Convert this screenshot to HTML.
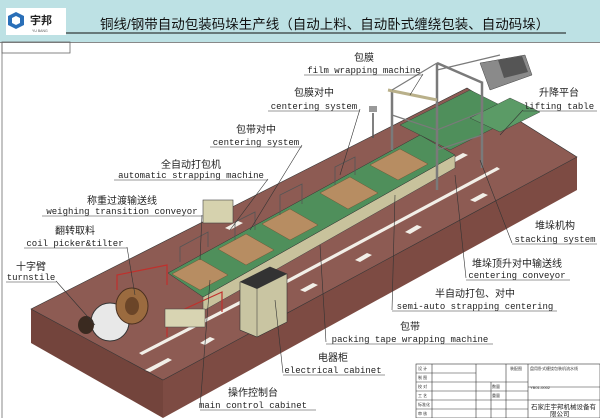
<!DOCTYPE html>
<html><head><meta charset="utf-8"><style>
html,body{margin:0;padding:0;background:#fff;}
body{width:600px;height:418px;overflow:hidden;position:relative;font-family:"Liberation Sans","Noto Sans CJK SC",sans-serif;}
svg{position:absolute;left:0;top:0;}
.en{font-family:"Liberation Mono","DejaVu Sans Mono",monospace;font-size:9px;fill:#222;}
.cn{font-family:"Liberation Sans","Noto Sans CJK SC",sans-serif;font-size:10px;fill:#222;}
</style></head><body>
<svg width="600" height="418" viewBox="0 0 600 418">
<!-- header -->
<rect x="0" y="0" width="600" height="42" fill="#bde1e4"/>
<rect x="6" y="8" width="60" height="27" fill="#fff"/>
<path d="M16 12 l8 4 v9 l-8 4 l-8 -4 v-9z" fill="#2a6fb8"/>
<path d="M16 16 l4 2 v5 l-4 2 l-4 -2 v-5z" fill="#fff"/>
<text x="30" y="24" font-size="11" font-weight="bold" fill="#222" font-family="Liberation Sans,Noto Sans CJK SC,sans-serif">宇邦</text>
<text x="32" y="32" font-size="3.5" fill="#555">YU BANG</text>
<text x="100" y="29" font-size="13.5" fill="#111" font-family="Liberation Sans,Noto Sans CJK SC,sans-serif">铜线/钢带自动包装码垛生产线（自动上料、自动卧式缠绕包装、自动码垛）</text>
<line x1="66" y1="33" x2="566" y2="33" stroke="#111" stroke-width="1"/>
<line x1="0" y1="42.5" x2="600" y2="42.5" stroke="#888" stroke-width="1"/>
<line x1="2" y1="42" x2="2" y2="418" stroke="#888" stroke-width="1"/>
<rect x="2" y="42" width="68" height="11" fill="none" stroke="#666" stroke-width="0.8"/>

<!-- floor -->
<polygon points="31,309 163,380 163,418 31,343" fill="#73443c"/>
<polygon points="163,380 577,157 577,190 163,418" fill="#7d4b43"/>
<polygon points="31,309 467,88 577,157 163,380" fill="#8d5b53" stroke="#333" stroke-width="0.6"/>
<!-- white stripes -->
<g fill="#f2efe8">
<polygon points="139,353 142,355 260,294 257,292"/>
<polygon points="262,293 265,295 500,169 497,167"/>
<polygon points="145,370 150,372 172,360 168,358"/>
<polygon points="200,343 205,345 215,339 210,337"/>
<polygon points="255,313 260,315 272,308 267,306"/>
<polygon points="300,290 305,292 318,285 313,283"/>
<polygon points="355,260 360,262 372,255 367,253"/>
<polygon points="405,232 410,234 422,227 417,225"/>
<polygon points="470,200 475,202 488,195 483,193"/>
<polygon points="225,228 230,230 243,223 238,221"/>
<polygon points="450,160 455,162 468,155 463,153"/>
</g>

<!-- conveyor -->
<polygon points="203,297 455,155 455,168 203,311" fill="#c8c29c" stroke="#444" stroke-width="0.5"/>
<polygon points="168,273 420,135 455,155 203,297" fill="#4f8f5b" stroke="#333" stroke-width="0.5"/>
<g fill="#b78d62" stroke="#6b4b30" stroke-width="0.4">
<polygon points="172,274 200,259 228,275 200,290"/>
<polygon points="218,249 246,234 274,250 246,265"/>
<polygon points="262,224 290,209 318,225 290,240"/>
<polygon points="320,193 350,177 378,193 348,209"/>
<polygon points="370,165 400,149 428,164 398,180"/>
</g>
<g stroke="#555" stroke-width="0.8" fill="none">
<path d="M180 262 v-15 l28 -15 v15"/>
<path d="M235 240 v-18 l20 -10 v18"/>
<path d="M280 215 v-20 l22 -11 v20"/>
<path d="M335 185 v-18 l20 -10 v18"/>
</g>
<rect x="203" y="200" width="30" height="23" fill="#d6d2ae" stroke="#444" stroke-width="0.6"/>
<!-- lifting table -->
<polygon points="400,125 470,90 520,115 450,150" fill="#4f8f5b" stroke="#333" stroke-width="0.4"/>
<polygon points="470,118 510,98 540,112 500,132" fill="#5b9b66" stroke="#333" stroke-width="0.4"/>

<!-- gantry -->
<g stroke="#7a7a7a" stroke-width="2.5" fill="none">
<line x1="392" y1="90" x2="392" y2="150"/>
<line x1="437" y1="63" x2="437" y2="190"/>
<line x1="482" y1="83" x2="482" y2="168"/>
<line x1="437" y1="63" x2="483" y2="83"/>
</g>
<line x1="388" y1="90" x2="437" y2="100" stroke="#b9b08a" stroke-width="3"/>
<g stroke="#7a7a7a" stroke-width="1.2" fill="none">
<line x1="392" y1="115" x2="437" y2="130"/>
<line x1="437" y1="130" x2="482" y2="112"/>
<line x1="437" y1="150" x2="482" y2="135"/>
<line x1="392" y1="90" x2="437" y2="63"/>
<line x1="437" y1="70" x2="500" y2="55"/>
</g>
<polygon points="480,63 525,55 532,75 490,90" fill="#8a8a8a" stroke="#444" stroke-width="0.5"/>
<polygon points="498,60 522,56 528,72 504,78" fill="#555"/>

<!-- cabinets -->
<polygon points="240,282 270,267 287,274 287,322 257,337 240,330" fill="#c9c5a2" stroke="#333" stroke-width="0.6"/>
<line x1="257" y1="289" x2="257" y2="337" stroke="#333" stroke-width="0.5"/>
<polygon points="240,282 270,267 287,274 257,289" fill="#333"/>
<line x1="373" y1="113" x2="373" y2="138" stroke="#555" stroke-width="1.5"/>
<rect x="369" y="106" width="8" height="6" fill="#999"/>

<!-- coil & turnstile -->
<circle cx="110" cy="322" r="19" fill="#e8e8e8" stroke="#333" stroke-width="1"/>
<ellipse cx="86" cy="325" rx="8" ry="9" fill="#3a2a20"/>
<ellipse cx="132" cy="306" rx="16" ry="18" fill="#9b6b3f" stroke="#4a3020" stroke-width="1"/>
<ellipse cx="132" cy="306" rx="7" ry="9" fill="#6b4528"/>
<g stroke="#c0302c" stroke-width="1.2" fill="none">
<path d="M117 290 v-15 l50 -10 v20"/>
<path d="M167 337 v-20 l55 -25 v20"/>
</g>
<rect x="165" y="309" width="40" height="18" fill="#d8d4b2" stroke="#444" stroke-width="0.5"/>

<!-- leader lines -->
<g stroke="#333" stroke-width="0.6" fill="none">
<path d="M423 74 L410 95"/>
<path d="M360 109 L340 175"/>
<path d="M302 145 L250 230"/>
<path d="M268 179 L230 230"/>
<path d="M202 215 L200 260"/>
<path d="M127 247 L135 295"/>
<path d="M56 281 L95 325"/>
<path d="M523 110 L500 135"/>
<path d="M512 243 L480 160"/>
<path d="M466 278 L455 175"/>
<path d="M392 310 L395 195"/>
<path d="M326 342 L320 245"/>
<path d="M283 373 L275 300"/>
<path d="M200 408 L210 280"/>
</g>

<!-- labels -->
<g text-anchor="middle">
<text class="cn" x="364" y="61">包膜</text>
<text class="en" x="364" y="73">film wrapping machine</text>
<text class="cn" x="314" y="96">包膜对中</text>
<text class="en" x="314" y="109">centering system</text>
<text class="cn" x="256" y="133">包带对中</text>
<text class="en" x="256" y="145">centering system</text>
<text class="cn" x="191" y="168">全自动打包机</text>
<text class="en" x="191" y="178">automatic strapping machine</text>
<text class="cn" x="122" y="204">称重过渡输送线</text>
<text class="en" x="122" y="214">weighing transition conveyor</text>
<text class="cn" x="75" y="234">翻转取料</text>
<text class="en" x="75" y="246">coil picker&amp;tilter</text>
<text class="cn" x="31" y="270">十字臂</text>
<text class="en" x="31" y="280">turnstile</text>
<text class="cn" x="559" y="96">升降平台</text>
<text class="en" x="559" y="109">lifting table</text>
<text class="cn" x="555" y="229">堆垛机构</text>
<text class="en" x="555" y="242">stacking system</text>
<text class="cn" x="517" y="267">堆垛顶升对中输送线</text>
<text class="en" x="517" y="278">centering conveyor</text>
<text class="cn" x="475" y="297">半自动打包、对中</text>
<text class="en" x="475" y="309">semi-auto strapping centering</text>
<text class="cn" x="410" y="330">包带</text>
<text class="en" x="410" y="342">packing tape wrapping machine</text>
<text class="cn" x="333" y="361">电器柜</text>
<text class="en" x="333" y="373">electrical cabinet</text>
<text class="cn" x="253" y="396">操作控制台</text>
<text class="en" x="253" y="408">main control cabinet</text>
</g>
<g stroke="#333" stroke-width="0.6">
<line x1="304" y1="75" x2="423" y2="75"/>
<line x1="268" y1="111" x2="360" y2="111"/>
<line x1="210" y1="147" x2="302" y2="147"/>
<line x1="114" y1="180" x2="268" y2="180"/>
<line x1="42" y1="216" x2="202" y2="216"/>
<line x1="24" y1="248" x2="127" y2="248"/>
<line x1="6" y1="282" x2="56" y2="282"/>
<line x1="523" y1="111" x2="597" y2="111"/>
<line x1="512" y1="244" x2="597" y2="244"/>
<line x1="466" y1="280" x2="570" y2="280"/>
<line x1="392" y1="311" x2="557" y2="311"/>
<line x1="326" y1="344" x2="493" y2="344"/>
<line x1="283" y1="375" x2="385" y2="375"/>
<line x1="200" y1="410" x2="316" y2="410"/>
</g>

<!-- title block -->
<g stroke="#333" stroke-width="0.6" fill="none">
<rect x="416" y="364" width="184" height="54" fill="#fff"/>
<line x1="416" y1="373" x2="476" y2="373"/>
<line x1="416" y1="382" x2="528" y2="382"/>
<line x1="416" y1="391" x2="528" y2="391"/>
<line x1="416" y1="400" x2="528" y2="400"/>
<line x1="416" y1="409" x2="528" y2="409"/>
<line x1="528" y1="387" x2="600" y2="387"/>
<line x1="528" y1="400" x2="600" y2="400"/>
<line x1="432" y1="364" x2="432" y2="418"/>
<line x1="476" y1="364" x2="476" y2="418"/>
<line x1="491" y1="382" x2="491" y2="418"/>
<line x1="506" y1="364" x2="506" y2="418"/>
<line x1="528" y1="364" x2="528" y2="418"/>
</g>
<g font-size="4" fill="#333">
<text x="418" y="370">设 计</text><text x="418" y="379">制 图</text><text x="418" y="388">校 对</text>
<text x="418" y="397">工 艺</text><text x="418" y="406">标准化</text><text x="418" y="415">审 核</text>
<text x="510" y="370">装配图</text><text x="530" y="370">盘用卧式缠绕包装机流水线</text>
<text x="492" y="388">数量</text><text x="492" y="397">重量</text><text x="530" y="389">YB01-0002</text>
</g>
<text x="531" y="409" font-size="6.5" fill="#222" font-family="Liberation Sans,Noto Sans CJK SC,sans-serif">石家庄宇邦机械设备有</text>
<text x="550" y="416" font-size="6.5" fill="#222" font-family="Liberation Sans,Noto Sans CJK SC,sans-serif">限公司</text>
</svg>
</body></html>
